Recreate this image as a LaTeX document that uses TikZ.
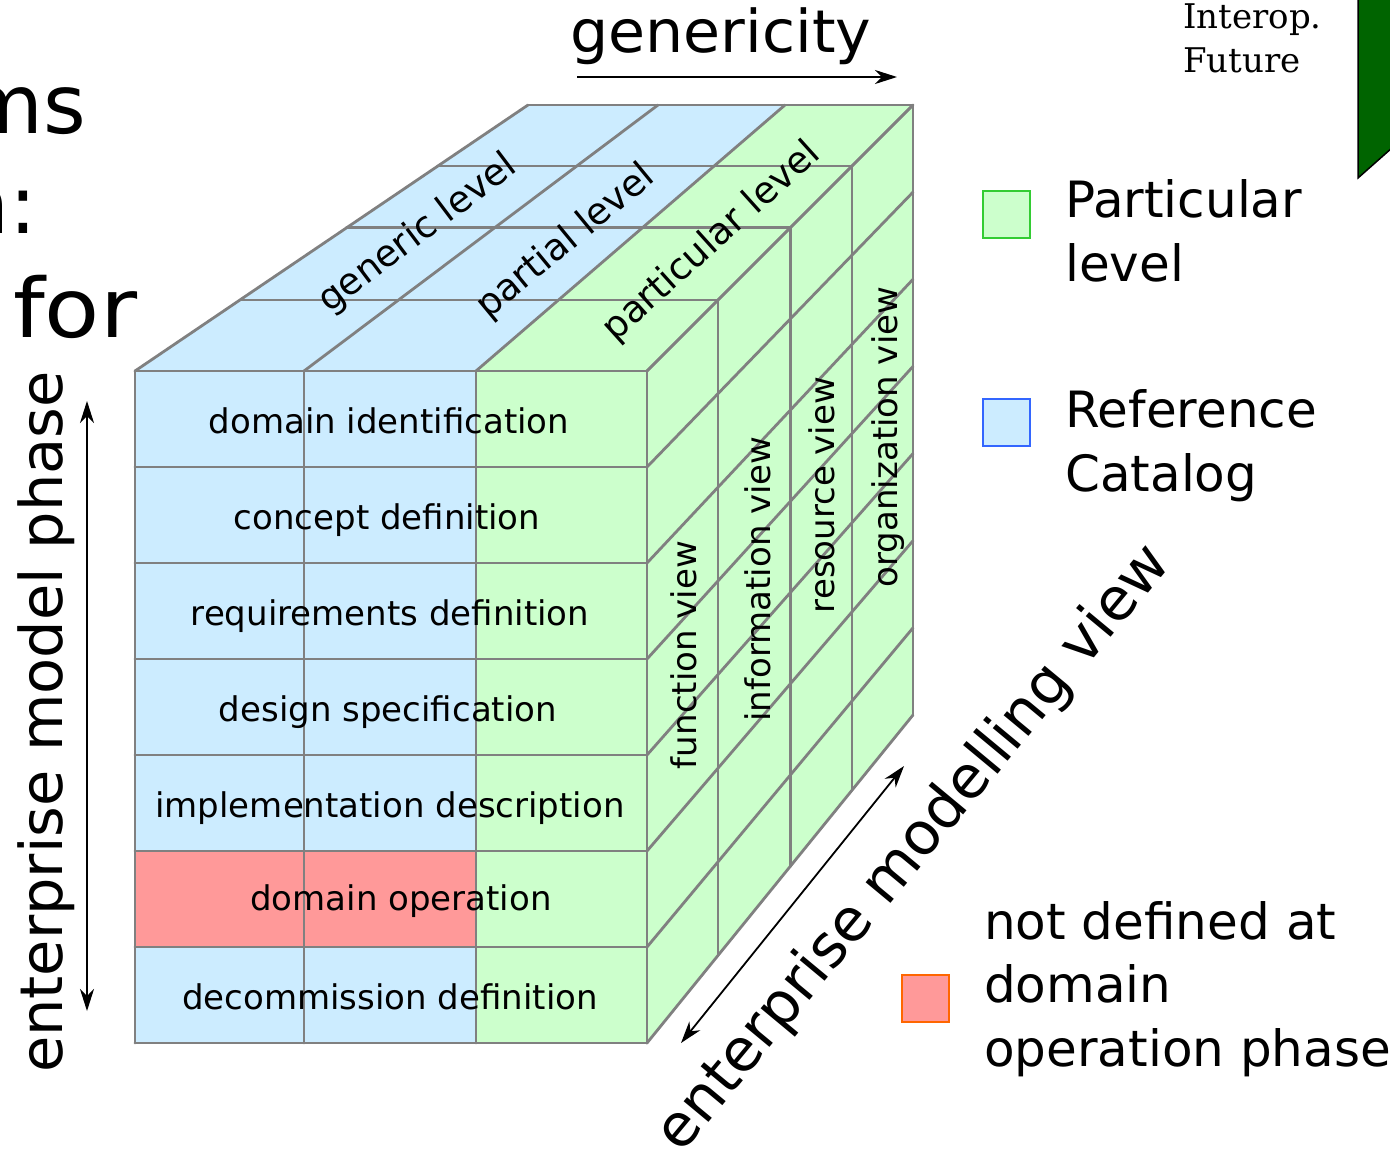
\documentclass[tikz,border=0pt]{standalone}
\usepackage{fontspec}
\setmainfont{DejaVu Sans}
\newfontfamily\serifont{DejaVu Serif}
\usetikzlibrary{arrows.meta}
\definecolor{cblue}{RGB}{204,236,255}
\definecolor{cgreen}{RGB}{204,255,204}
\definecolor{cred}{RGB}{255,153,153}
\definecolor{cgrid}{RGB}{128,128,128}
\definecolor{lgreen}{RGB}{51,204,51}
\definecolor{lblue}{RGB}{51,102,255}
\definecolor{lred}{RGB}{255,102,0}
\definecolor{dgreen}{RGB}{0,100,0}
\tikzset{mytip/.tip={Stealth[length=22pt,width=14pt,inset=7pt]}}
\begin{document}
\begin{tikzpicture}[x=1pt,y=-1pt,
  gridline/.style={draw=cgrid,line width=2.8pt,line cap=round,line join=round},
  cubelabel/.style={font=\fontsize{34}{42}\selectfont,inner sep=0pt,anchor=base},
  toplabel/.style={font=\fontsize{37}{44}\selectfont,inner sep=0pt,anchor=center},
  biglabel/.style={font=\fontsize{59}{70}\selectfont,inner sep=0pt,anchor=base},
  legendtext/.style={font=\fontsize{50}{64}\selectfont,inner sep=0pt,anchor=base west},
  fragment/.style={font=\fontsize{82}{96}\selectfont,inner sep=0pt},
  legendsq/.style={line width=2pt,minimum size=47pt,inner sep=0pt,outer sep=0pt},
  axisarrow/.style={line width=1.8pt},
  ]
\clip (0,0) rectangle (1390,1152);
\fill[white] (0,0) rectangle (1390,1152);

% slide fragments
\node[fragment,anchor=base east] (f1) at (86,133) {ms};
\node[fragment,anchor=base east] (f2) at (37,233) {n:};
\node[fragment,anchor=base west] (f3) at (13,337) {\scalebox{1.1}[1]{for}};

% header
\node[font=\serifont\fontsize{34}{40}\selectfont,inner sep=0pt,anchor=base west] (h1) at (1183,28) {Interop.};
\node[font=\serifont\fontsize{34}{40}\selectfont,inner sep=0pt,anchor=base west] (h2) at (1183,72) {Future};
\draw[fill=dgreen,draw=black,line width=1.5pt] (1358,-3) -- (1358,178) -- (1393,147) -- (1393,-3) -- cycle;

% ---- cube fills
\fill[cblue] (135,371) rectangle (476,1043);
\fill[cgreen] (476,371) rectangle (647,1043);
\fill[cred] (135,851) rectangle (476,947);
\fill[cblue] (135,371) -- (476,371) -- (785,105) -- (528,105) -- cycle;
\fill[cgreen] (476,371) -- (647,371) -- (913,105) -- (785,105) -- cycle;
\fill[cgreen] (647,371) -- (913,105) -- (913,715) -- (647,1043) -- cycle;

% ---- front grid
\foreach \x in {135,304,476,647} \draw[gridline] (\x,371) -- (\x,1043);
\foreach \r in {0,...,7} \draw[gridline] (135,{371+96*\r}) -- (647,{371+96*\r});
% ---- top grid
\foreach \f/\b in {135/528,304/658,476/785,647/913} \draw[gridline] (\f,371) -- (\b,105);
\foreach \t in {0.267,0.538,0.771,1} \draw[gridline] ({135+393*\t},{371-266*\t}) -- ({647+266*\t},{371-266*\t});
% ---- right grid
\foreach \t in {0,0.267,0.538,0.771,1} \draw[gridline] ({647+266*\t},{371-266*\t}) -- ({647+266*\t},{1043-328*\t});
\foreach \r in {0,...,7} \draw[gridline] (647,{371+96*\r}) -- (913,{105+87.143*\r});

% ---- front labels
\node[cubelabel] (p1) at (389,433) {domain identification};
\node[cubelabel] (p2) at (387,529) {concept definition};
\node[cubelabel] (p3) at (390,625) {requirements definition};
\node[cubelabel] (p4) at (388,721) {design specification};
\node[cubelabel] (p5) at (390,817) {implementation description};
\node[cubelabel] (p6) at (401,910) {domain operation};
\node[cubelabel] (p7) at (390,1009) {decommission definition};

% ---- top labels
\node[toplabel,rotate=37] (t1) at (418,234) {generic level};
\node[toplabel,rotate=39.5] (t2) at (566,242) {partial level};
\node[toplabel,rotate=42] (t3) at (712,242) {particular level};

% ---- right labels
\node[cubelabel,rotate=90] (v1) at (696,655) {function view};
\node[cubelabel,rotate=90] (v2) at (770,579) {information view};
\node[cubelabel,rotate=90] (v3) at (834,495) {resource view};
\node[cubelabel,rotate=90] (v4) at (897,437) {organization view};

% ---- axes
\node[biglabel] (gen) at (721,52) {\scalebox{1.02}[1]{genericity}};
\coordinate (g0) at (577,77);
\coordinate (g1) at (897,77);
\draw[axisarrow,-{mytip}] (g0) -- (g1);

\node[biglabel,rotate=90] (emp) at (62,722) {enterprise model phase};
\coordinate (a0) at (87,401);
\coordinate (a1) at (87,1011);
\draw[axisarrow,{mytip}-{mytip}] (a0) -- (a1);

\node[biglabel,rotate=50.3] (emv) at (927,859) {enterprise modelling view};
\coordinate (d0) at (681,1043);
\coordinate (d1) at (904,766);
\draw[axisarrow,{mytip}-{mytip}] (d0) -- (d1);

% ---- legend
\node[legendsq,fill=cgreen,draw=lgreen] (sq1) at (1006.5,214) {};
\node[legendtext] (lt1) at (1065,217) {Particular};
\node[legendtext] (lt2) at (1065,281) {level};
\node[legendsq,fill=cblue,draw=lblue] (sq2) at (1006.5,422) {};
\node[legendtext] (lt3) at (1065,427) {Reference};
\node[legendtext] (lt4) at (1065,491) {Catalog};
\node[legendsq,fill=cred,draw=lred] (sq3) at (925.5,998.5) {};
\node[legendtext] (lt5) at (984,939) {not defined at};
\node[legendtext] (lt6) at (984,1002) {domain};
\node[legendtext] (lt7) at (984,1066) {operation phase};
\end{tikzpicture}
\end{document}
